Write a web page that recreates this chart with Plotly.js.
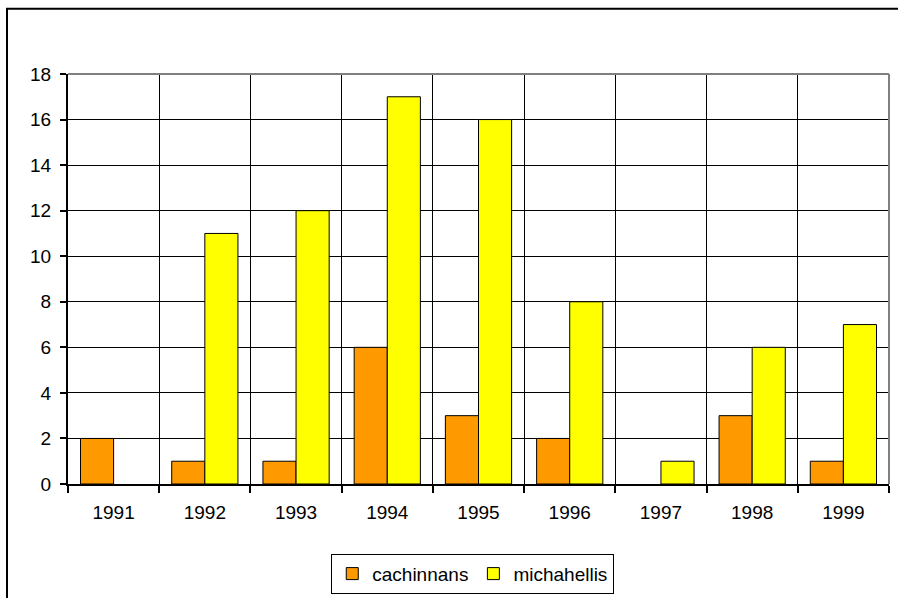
<!DOCTYPE html>
<html>
<head>
<meta charset="utf-8">
<script src="https://cdn.plot.ly/plotly-3.0.1.min.js"></script>
<style>
html,body{margin:0;padding:0;background:#fff;}
#chart{width:898px;height:598px;}
</style>
</head>
<body>
<div id="chart"></div>
<script>
const years = ['1991','1992','1993','1994','1995','1996','1997','1998','1999'];
const cachinnans = [2,1,1,6,3,2,0,3,1];
const michahellis = [0,11,12,17,16,8,1,6,7];
const yTicks = [0,2,4,6,8,10,12,14,16,18];

// a zero value draws no bar at all (as in the original chart)
const shown = vals => vals.map(v => v === 0 ? null : v);

const traces = [
  {type:'bar', name:'cachinnans', x:years, y:shown(cachinnans),
   marker:{color:'#FF9900', line:{color:'#000', width:1}}},
  {type:'bar', name:'michahellis', x:years, y:shown(michahellis),
   marker:{color:'#FFFF00', line:{color:'#000', width:1}}}
];

const layout = {
  width:898, height:598,
  margin:{l:68, r:9, t:74, b:114},
  paper_bgcolor:'#fff', plot_bgcolor:'#fff',
  font:{family:'Liberation Sans, Arial, sans-serif', size:19, color:'#000'},
  barmode:'group', bargap:0.274, bargroupgap:0,
  showlegend:true,
  legend:{orientation:'h', x:0.493, xanchor:'center', yref:'container', y:0.074, yanchor:'top',
          bordercolor:'#000', borderwidth:1, font:{size:19}, itemwidth:30, tracegroupgap:0},
  xaxis:{type:'category', tickson:'boundaries', showgrid:true, gridcolor:'#000', gridwidth:1,
         ticks:'outside', ticklen:7, tickwidth:2, tickcolor:'#000', ticklabelstandoff:10,
         showline:true, linecolor:'#000', linewidth:2, zeroline:false, fixedrange:true, automargin:false},
  yaxis:{range:[0,18], tickvals:yTicks, showgrid:true, gridcolor:'#000', gridwidth:1,
         ticks:'outside', ticklen:6, tickwidth:2, tickcolor:'#000', ticklabelstandoff:5,
         showline:true, linecolor:'#000', linewidth:2, zeroline:false, fixedrange:true, automargin:false},
  shapes:[
    {type:'line', xref:'paper', yref:'paper', x0:0, x1:1, y0:1, y1:1, line:{color:'#808080', width:2}},
    {type:'line', xref:'paper', yref:'paper', x0:1, x1:1, y0:0, y1:1, line:{color:'#808080', width:2}},
    {type:'rect', xref:'paper', yref:'paper', x0:-0.0743, x1:1.2, y0:-0.5, y1:1.159, line:{color:'#000', width:2}, layer:'below'}
  ]
};

Plotly.newPlot('chart', traces, layout, {displayModeBar:false, staticPlot:true});
</script>
</body>
</html>
